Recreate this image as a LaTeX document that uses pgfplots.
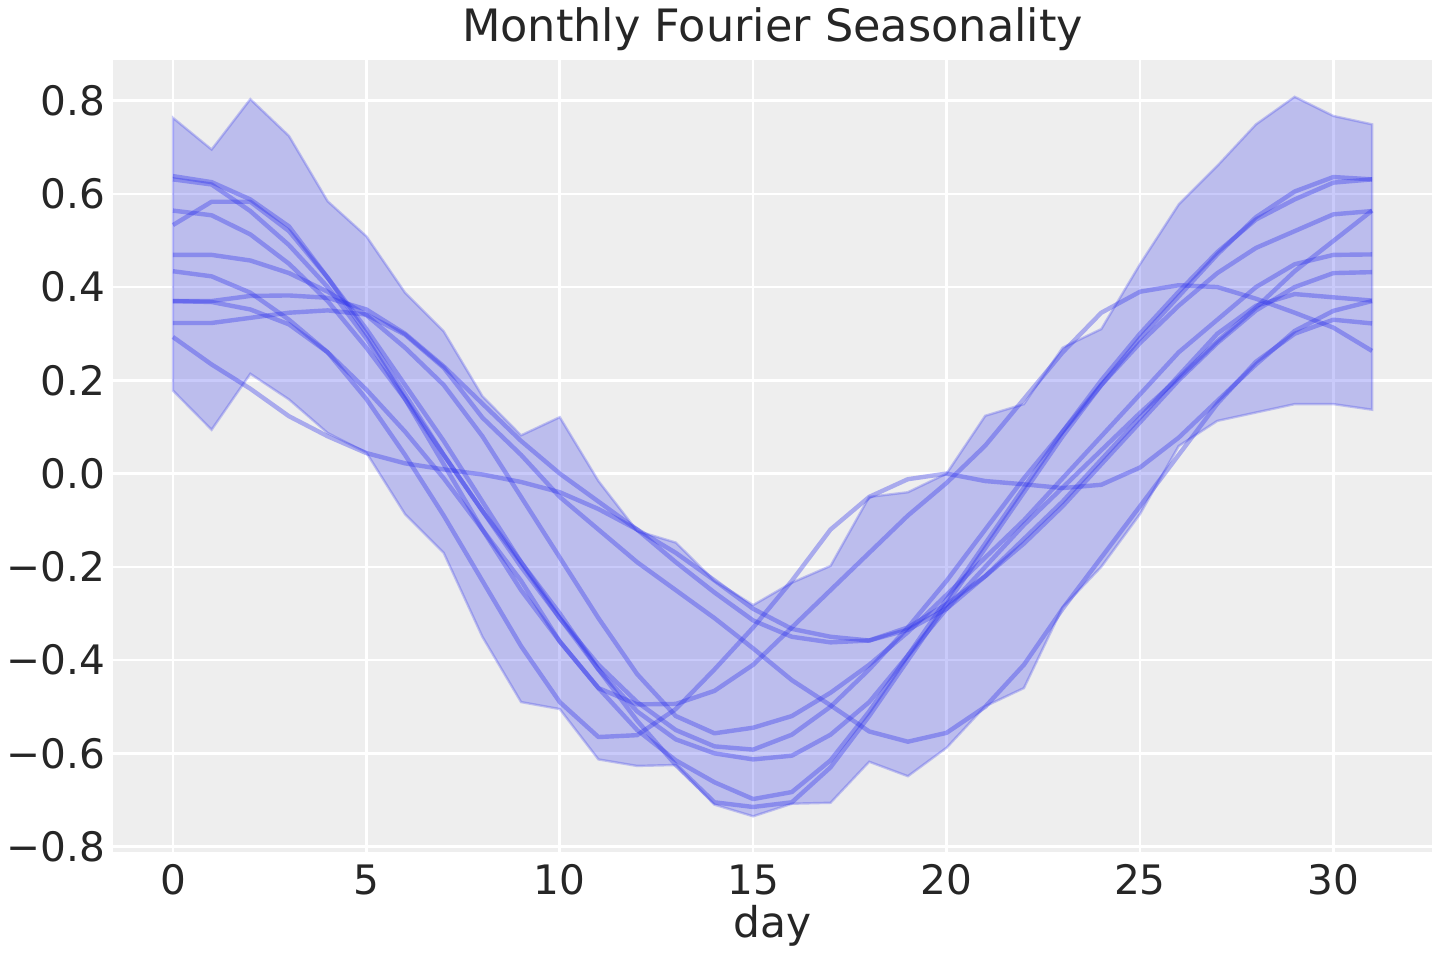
\documentclass[border=0pt]{standalone}
\usepackage{fontspec}
\setmainfont{DejaVu Sans}
\usepackage{pgfplots}
\usepackage{pgfplotstable}
\pgfplotsset{compat=1.18}
\definecolor{az}{HTML}{2A2EEC}
\definecolor{bg}{HTML}{EEEEEE}
\definecolor{txt}{HTML}{262626}

\pgfplotstableread{
day l1 l2 l3 l4 l5 l6 l7 l8 l9 l10
0 0.638 0.631 0.564 0.533 0.469 0.434 0.370 0.370 0.323 0.293
1 0.625 0.620 0.554 0.583 0.469 0.423 0.370 0.368 0.323 0.234
2 0.588 0.563 0.513 0.583 0.457 0.388 0.381 0.352 0.334 0.182
3 0.530 0.490 0.450 0.520 0.430 0.330 0.382 0.320 0.345 0.123
4 0.420 0.400 0.370 0.420 0.390 0.260 0.377 0.260 0.350 0.080
5 0.300 0.290 0.270 0.310 0.340 0.180 0.352 0.160 0.341 0.044
6 0.170 0.160 0.160 0.190 0.270 0.090 0.300 0.040 0.298 0.022
7 0.040 0.020 0.040 0.070 0.190 -0.010 0.230 -0.090 0.227 0.009
8 -0.080 -0.120 -0.080 -0.060 0.080 -0.120 0.150 -0.230 0.120 -0.002
9 -0.190 -0.250 -0.200 -0.190 -0.050 -0.230 0.070 -0.370 0.040 -0.018
10 -0.300 -0.360 -0.310 -0.310 -0.180 -0.360 0.000 -0.490 -0.050 -0.040
11 -0.420 -0.460 -0.410 -0.420 -0.310 -0.460 -0.060 -0.565 -0.120 -0.076
12 -0.530 -0.550 -0.490 -0.510 -0.430 -0.495 -0.120 -0.561 -0.190 -0.120
13 -0.625 -0.615 -0.550 -0.570 -0.520 -0.494 -0.190 -0.505 -0.250 -0.170
14 -0.705 -0.662 -0.585 -0.600 -0.557 -0.466 -0.255 -0.420 -0.310 -0.229
15 -0.715 -0.698 -0.592 -0.613 -0.545 -0.410 -0.315 -0.330 -0.375 -0.290
16 -0.705 -0.683 -0.560 -0.605 -0.520 -0.330 -0.350 -0.230 -0.443 -0.333
17 -0.630 -0.615 -0.500 -0.560 -0.470 -0.250 -0.362 -0.120 -0.497 -0.350
18 -0.520 -0.510 -0.420 -0.490 -0.410 -0.170 -0.358 -0.050 -0.553 -0.358
19 -0.400 -0.390 -0.330 -0.390 -0.340 -0.090 -0.335 -0.012 -0.575 -0.330
20 -0.280 -0.270 -0.230 -0.290 -0.260 -0.020 -0.290 0.000 -0.556 -0.280
21 -0.160 -0.150 -0.120 -0.200 -0.180 0.060 -0.220 -0.016 -0.500 -0.220
22 -0.040 -0.030 -0.010 -0.110 -0.100 0.160 -0.140 -0.023 -0.410 -0.150
23 0.080 0.090 0.090 -0.030 -0.010 0.260 -0.060 -0.031 -0.290 -0.070
24 0.190 0.200 0.190 0.050 0.080 0.345 0.030 -0.024 -0.180 0.020
25 0.290 0.300 0.280 0.130 0.170 0.390 0.120 0.013 -0.070 0.110
26 0.380 0.390 0.360 0.205 0.260 0.404 0.210 0.077 0.040 0.200
27 0.470 0.475 0.430 0.284 0.330 0.400 0.300 0.156 0.150 0.280
28 0.550 0.545 0.484 0.356 0.400 0.375 0.360 0.234 0.240 0.350
29 0.605 0.588 0.520 0.434 0.449 0.345 0.385 0.306 0.300 0.400
30 0.636 0.624 0.556 0.499 0.469 0.313 0.378 0.349 0.330 0.430
31 0.631 0.631 0.563 0.564 0.470 0.263 0.371 0.370 0.322 0.432
}\lines

\pgfplotsset{
  seasline/.style={az, opacity=0.35, line width=2.2pt, line join=round, mark=none},
}

\begin{document}
\begin{tikzpicture}
\begin{axis}[
  at={(0,0)}, anchor=south west,
  scale only axis, width=659.5pt, height=396.1pt,
  xmin=-1.55, xmax=32.55, ymin=-0.812, ymax=0.887,
  axis background/.style={fill=bg},
  axis line style={draw=none},
  major tick length=0pt,
  xmajorgrids, ymajorgrids,
  grid style={white, line width=1.3pt},
  xtick={0,5,10,15,20,25,30},
  xticklabels={0,5,10,15,20,25,30},
  ytick={-0.8,-0.6,-0.4,-0.2,0,0.2,0.4,0.6,0.8},
  yticklabels={−0.8,−0.6,−0.4,−0.2,0.0,0.2,0.4,0.6,0.8},
  tick label style={font=\fontsize{20.3}{22}\selectfont, text=txt},
  xticklabel style={anchor=base, yshift=-21pt},
  yticklabel style={anchor=east, xshift=-0.5pt},
  xlabel={day},
  xlabel style={font=\fontsize{21.2}{23}\selectfont, text=txt, at={(axis description cs:0.5,0)}, anchor=base, yshift=-42.5pt},
  title={Monthly Fourier Seasonality},
  title style={font=\fontsize{22.3}{24}\selectfont, text=txt, at={(axis description cs:0.5,1)}, anchor=base, yshift=3pt},
]
\addplot[fill=az, fill opacity=0.25, draw=az, draw opacity=0.25, line width=1.2pt, mark=none] coordinates {
(0,0.763) (1,0.695) (2,0.803) (3,0.724) (4,0.584) (5,0.509) (6,0.388) (7,0.305)
(8,0.166) (9,0.082) (10,0.121) (11,-0.016) (12,-0.123) (13,-0.148) (14,-0.230) (15,-0.282)
(16,-0.234) (17,-0.198) (18,-0.050) (19,-0.040) (20,0.000) (21,0.124) (22,0.149) (23,0.270)
(24,0.310) (25,0.449) (26,0.577) (27,0.660) (28,0.749) (29,0.808) (30,0.767) (31,0.749)
(31,0.137) (30,0.149) (29,0.149) (28,0.131) (27,0.113) (26,0.059) (25,-0.087) (24,-0.200)
(23,-0.287) (22,-0.460) (21,-0.499) (20,-0.588) (19,-0.649) (18,-0.618) (17,-0.706) (16,-0.708)
(15,-0.735) (14,-0.710) (13,-0.625) (12,-0.627) (11,-0.613) (10,-0.505) (9,-0.490) (8,-0.350)
(7,-0.170) (6,-0.087) (5,0.045) (4,0.087) (3,0.159) (2,0.214) (1,0.094) (0,0.178)
} --cycle;
\addplot[seasline] table[x=day, y=l1] {\lines};
\addplot[seasline] table[x=day, y=l2] {\lines};
\addplot[seasline] table[x=day, y=l3] {\lines};
\addplot[seasline] table[x=day, y=l4] {\lines};
\addplot[seasline] table[x=day, y=l5] {\lines};
\addplot[seasline] table[x=day, y=l6] {\lines};
\addplot[seasline] table[x=day, y=l7] {\lines};
\addplot[seasline] table[x=day, y=l8] {\lines};
\addplot[seasline] table[x=day, y=l9] {\lines};
\addplot[seasline] table[x=day, y=l10] {\lines};
\end{axis}
\pgfresetboundingbox
\path[use as bounding box] (-56.5pt,-53.9pt) rectangle (663.5pt,426.1pt);
\end{tikzpicture}
\end{document}
